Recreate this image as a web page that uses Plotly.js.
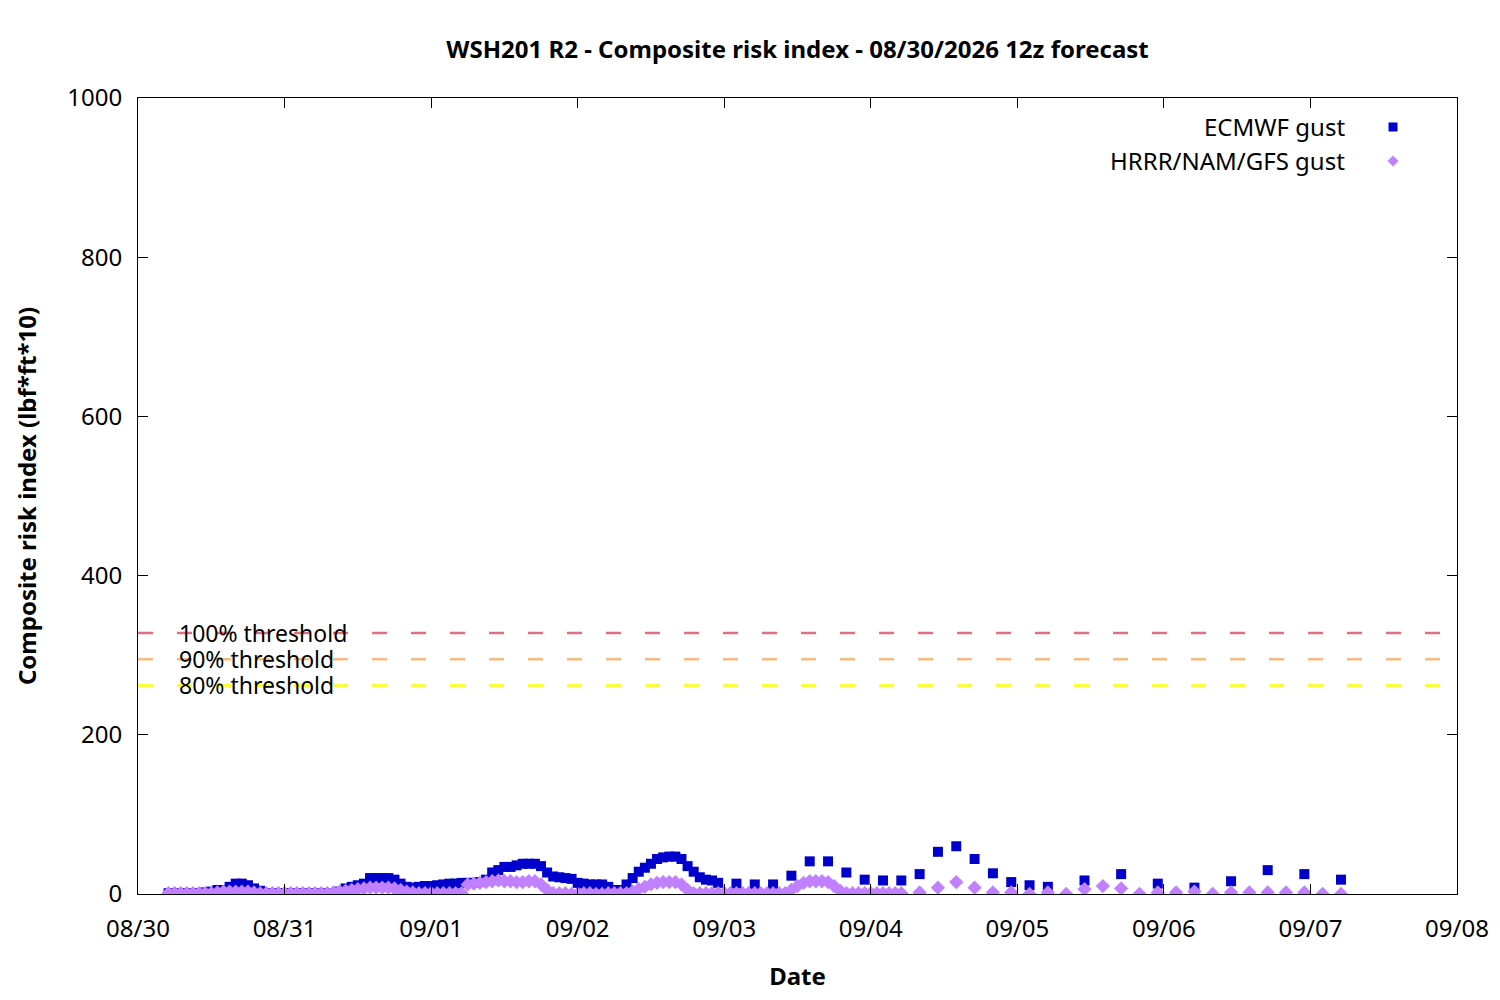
<!DOCTYPE html>
<html>
<head>
<meta charset="utf-8">
<script src="https://cdn.plot.ly/plotly-3.0.1.min.js"></script>
<style>
  body { margin: 0; background: #fff; }
  #risk { width: 1500px; height: 1000px; }
</style>
</head>
<body>
<div id="risk"></div>
<script>
// ECMWF gust, hourly f000-f090, 3-hourly f093-f144, 6-hourly f150-f192
var ecmwfHourly = [1,1,1,1,1,1, 2,3,5,5,9,13,13,11,7,4,
    1,1,1,1,1,1,1,1,1,1,1,1,
    3,7,9,11,13,20,20,20,20,18,13,9,8,9,10,10,11,12,13,13,14,14,14,15,18,27,30,34,34,36,
    38,38,38,35,27,22,21,20,19,14,13,12,12,12,9,5,5,12,20,28,33,38,44,46,47,47,44,35,28,21,18,17,14];
var ecmwf3h = [13,12,12,23,41,41,27,18,17,17,25,53,60,44,26,15,11,9];
var ecmwf6h = [17,25,13,8,16,30,25,18];

// HRRR/NAM/GFS gust, hourly f000-f120, 3-hourly f123-f192
var hrrrHourly = [1,1,1,1,1,1,1,1, 2,3,3,3,3,3,2,
    1,1,1,1,1,1,1,1,1,1,1,1,
    2,3,4,5,6,7,8,8,8,8,7,5,3,2,
    1,1,1,1,1,1,1,1,
    12,13,14,15,16,17,16,16,15,15,16,16,12,5,
    1,1,1,0,0,1,1,0,0,1,1,1,1,
    3,6,9,12,14,15,15,15,12,5,
    1,1,1,1,1,1,1,1,1,1,1,1,1,1,1,1,
    5,10,14,16,16,16,15,10,4,
    1,1,1,1,1,1,1,1,1,1];
var hrrr3h = [2,8,15,8,2,2,0,2,0,6,10,7,0,2,2,3,0,2,2,2,2,2,0,0];

var thresholdNames = ['100% threshold', '90% threshold', '80% threshold'];
var thresholdValues = [328, 295, 262];
var thresholdColors = ['#e0707f', '#f6ba82', '#ffff00'];

var HOUR = 3600000;
var blue = '#0000cc', purple = '#c080ff';
var font = 'Noto Sans, Open Sans, sans-serif';

function seg(vals, start, step, color, symbol, size) {
    return {y: vals, x0: start, dx: step * HOUR, mode: 'markers', type: 'scatter',
        marker: {color: color, symbol: symbol, size: size}, showlegend: false, hoverinfo: 'x+y'};
}

var data = [
    seg(ecmwfHourly, '2026-08-30 05:00', 1, blue, 'square', 10),
    seg(ecmwf3h, '2026-09-03 02:00', 3, blue, 'square', 10),
    seg(ecmwf6h, '2026-09-05 11:00', 6, blue, 'square', 10),
    seg(hrrrHourly, '2026-08-30 05:00', 1, purple, 'diamond', 11),
    seg(hrrr3h, '2026-09-04 08:00', 3, purple, 'diamond', 11)
];

var annotations = [];
for (var i = 0; i < thresholdValues.length; i++) {
    data.push({x: ['2026-08-30', '2026-09-08'], y: [thresholdValues[i], thresholdValues[i]],
        mode: 'lines', line: {color: thresholdColors[i], width: 2.5, dash: '15px,24px'},
        showlegend: false, hoverinfo: 'none'});
    annotations.push({xref: 'paper', x: 0.0295, y: thresholdValues[i], yref: 'y',
        text: thresholdNames[i], showarrow: false, xanchor: 'left', yanchor: 'middle',
        height: 24, font: {family: font, size: 23, color: '#000'}});
}

// legend drawn gnuplot-style: text on the left, symbol on the right
var legendNames = ['ECMWF gust', 'HRRR/NAM/GFS gust'];
var legendY = [0.9636, 0.9209];
annotations.push({xref: 'paper', yref: 'paper', x: 0.9166, y: legendY[0], text: legendNames[0],
    showarrow: false, xanchor: 'right', yanchor: 'middle', font: {family: font, size: 24, color: '#000'}});
annotations.push({xref: 'paper', yref: 'paper', x: 0.9166, y: legendY[1], text: legendNames[1],
    showarrow: false, xanchor: 'right', yanchor: 'middle', font: {family: font, size: 24, color: '#000'}});

var shapes = [
    {type: 'rect', xref: 'paper', yref: 'paper', xsizemode: 'pixel', ysizemode: 'pixel',
     xanchor: 0.9515, yanchor: legendY[0], x0: -4.5, x1: 4.5, y0: -4.5, y1: 4.5,
     fillcolor: blue, line: {width: 0}},
    {type: 'path', xref: 'paper', yref: 'paper', xsizemode: 'pixel', ysizemode: 'pixel',
     xanchor: 0.9515, yanchor: legendY[1], path: 'M 0,-5.5 L 5.5,0 L 0,5.5 L -5.5,0 Z',
     fillcolor: purple, line: {width: 0}}
];

var layout = {
    width: 1500, height: 1000,
    margin: {l: 138, r: 43, t: 98, b: 106},
    paper_bgcolor: '#fff', plot_bgcolor: '#fff',
    font: {family: font, size: 24, color: '#000'},
    title: {text: '<b>WSH201 R2 - Composite risk index - 08/30/2026 12z forecast</b>',
        font: {family: font, size: 24}, x: 0.5, xref: 'paper', y: 0.95, yref: 'container', yanchor: 'middle'},
    xaxis: {type: 'date', range: ['2026-08-30', '2026-09-08'], dtick: 86400000, tick0: '2026-08-30',
        tickformat: '%m/%d', ticks: 'inside', ticklen: 10, tickcolor: '#000', showgrid: false,
        zeroline: false, showline: true, linecolor: '#000', linewidth: 1, mirror: 'ticks',
        ticklabelstandoff: 13,
        title: {text: '<b>Date</b>', font: {family: font, size: 24}, standoff: 25}},
    yaxis: {range: [0, 1000], dtick: 200, ticks: 'inside', ticklen: 10, tickcolor: '#000',
        showgrid: false, zeroline: false, showline: true, linecolor: '#000', linewidth: 1, mirror: 'ticks',
        ticklabelstandoff: 10,
        title: {text: '<b>Composite risk index (lbf*ft*10)</b>', font: {family: font, size: 24}, standoff: 23}},
    annotations: annotations,
    shapes: shapes
};

Plotly.newPlot('risk', data, layout, {displayModeBar: false});
</script>
</body>
</html>
